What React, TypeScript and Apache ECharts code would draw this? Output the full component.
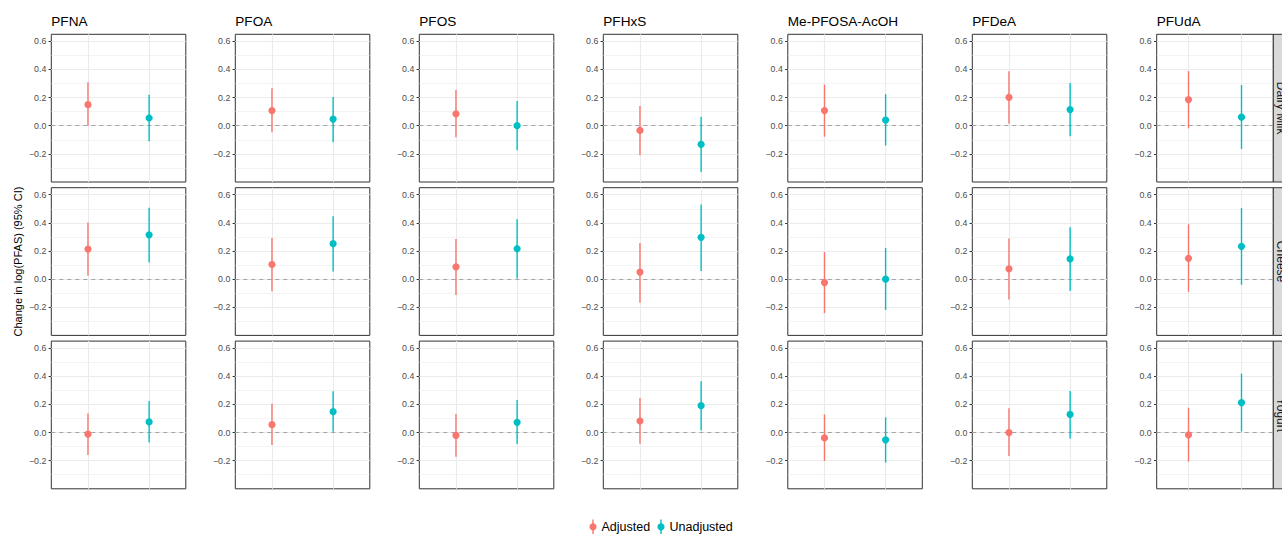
import React, { useEffect, useRef } from "react";
import * as echarts from "echarts";

// ---------- data ----------
const PFAS = ["PFNA", "PFOA", "PFOS", "PFHxS", "Me-PFOSA-AcOH", "PFDeA", "PFUdA"];
const FOODS = ["Dairy Milk", "Cheese", "Yogurt"];
const GROUPS = ["Adjusted", "Unadjusted"];
const GROUP_X = [1, 2];
const Y_TICKS = [-0.2, 0, 0.2, 0.4, 0.6];
const Y_MINOR = [-0.3, -0.1, 0.1, 0.3, 0.5];

// [estimate, lower, upper] per PFAS
const milkAdjusted = [
  [0.15, 0.0, 0.31], [0.108, -0.047, 0.266], [0.085, -0.082, 0.254], [-0.033, -0.209, 0.141],
  [0.108, -0.078, 0.292], [0.202, 0.014, 0.388], [0.186, -0.019, 0.388],
];
const milkUnadjusted = [
  [0.055, -0.11, 0.22], [0.047, -0.118, 0.205], [0.0, -0.174, 0.176], [-0.132, -0.329, 0.064],
  [0.04, -0.141, 0.224], [0.115, -0.075, 0.304], [0.061, -0.165, 0.289],
];
const cheeseAdjusted = [
  [0.214, 0.024, 0.402], [0.104, -0.087, 0.292], [0.087, -0.113, 0.285], [0.05, -0.168, 0.256],
  [-0.024, -0.242, 0.193], [0.073, -0.144, 0.289], [0.148, -0.09, 0.39],
];
const cheeseUnadjusted = [
  [0.315, 0.118, 0.508], [0.252, 0.054, 0.447], [0.216, 0.005, 0.426], [0.297, 0.057, 0.53],
  [0.0, -0.219, 0.221], [0.144, -0.085, 0.369], [0.233, -0.04, 0.505],
];
const yogurtAdjusted = [
  [-0.012, -0.16, 0.136], [0.056, -0.089, 0.205], [-0.021, -0.172, 0.132], [0.082, -0.08, 0.245],
  [-0.038, -0.202, 0.129], [0.0, -0.167, 0.172], [-0.017, -0.207, 0.176],
];
const yogurtUnadjusted = [
  [0.075, -0.071, 0.224], [0.148, 0.005, 0.294], [0.073, -0.082, 0.231], [0.191, 0.014, 0.365],
  [-0.052, -0.214, 0.108], [0.129, -0.042, 0.296], [0.212, 0.007, 0.419],
];
const ROW_DATA = [
  [milkAdjusted, milkUnadjusted],
  [cheeseAdjusted, cheeseUnadjusted],
  [yogurtAdjusted, yogurtUnadjusted],
];

// ---------- style / layout ----------
const COLORS = ["#F8766D", "#00BFC4"];
const FONT = "'Liberation Sans', Arial, Helvetica, sans-serif";
const PANEL_LEFTS = [51.3, 235.3, 419.3, 603.3, 787.8, 972.3, 1156.7];
const PANEL_W = 134.5;
const LAST_PANEL_W = 116.6;
const PANEL_TOPS = [34.3, 187.7, 341.1];
const PANEL_H = 147.7;
const STRIP_W = 17;

const fmt = (v: number) => {
  const s = Math.abs(v) < 1e-9 ? "0.0" : v.toFixed(1);
  return s.replace("-", "\u2212");
};

function buildOption() {
  const grid: any[] = [];
  const xAxis: any[] = [];
  const yAxis: any[] = [];
  const series: any[] = [];
  const graphic: any[] = [];

  FOODS.forEach((food, r) => {
    PFAS.forEach((name, c) => {
      const idx = grid.length;
      const w = c === PFAS.length - 1 ? LAST_PANEL_W : PANEL_W;
      grid.push({
        left: PANEL_LEFTS[c],
        top: PANEL_TOPS[r],
        width: w,
        height: PANEL_H,
        show: true,
        borderColor: "#333333",
        borderWidth: 1,
        backgroundColor: "transparent",
        containLabel: false,
      });
      xAxis.push({
        type: "value",
        gridIndex: idx,
        min: 0.4,
        max: 2.6,
        axisLine: { show: false },
        splitLine: { show: false },
        axisLabel: { show: false, customValues: GROUP_X },
        axisTick: {
          show: r === FOODS.length - 1,
          customValues: GROUP_X,
          length: 2.7,
          lineStyle: { color: "#333333", width: 1 },
        },
      });
      yAxis.push({
        type: "value",
        gridIndex: idx,
        min: -0.4,
        max: 0.65,
        axisLine: { show: false },
        splitLine: { show: false },
        axisTick: {
          show: true,
          customValues: Y_TICKS,
          length: 2.7,
          lineStyle: { color: "#333333", width: 1 },
        },
        axisLabel: {
          show: true,
          customValues: Y_TICKS,
          formatter: (v: number) => fmt(v),
          fontSize: 8.8,
          fontFamily: FONT,
          color: "#4D4D4D",
          margin: 5,
        },
      });

      const gridLines: any[] = [];
      Y_MINOR.forEach((v) =>
        gridLines.push({ yAxis: v, lineStyle: { color: "#EBEBEB", width: 0.6, type: "solid" } })
      );
      Y_TICKS.forEach((v) =>
        gridLines.push({ yAxis: v, lineStyle: { color: "#EBEBEB", width: 1.1, type: "solid" } })
      );
      GROUP_X.forEach((v) =>
        gridLines.push({ xAxis: v, lineStyle: { color: "#EBEBEB", width: 1.1, type: "solid" } })
      );
      gridLines.push({ yAxis: 0, lineStyle: { color: "#A3A3A3", width: 1.2, type: [4, 4] } });

      series.push({
        type: "line",
        xAxisIndex: idx,
        yAxisIndex: idx,
        data: [[1.5, 0.1]],
        symbol: "none",
        lineStyle: { opacity: 0 },
        silent: true,
        z: 1,
        markLine: {
          silent: true,
          symbol: ["none", "none"],
          label: { show: false },
          animation: false,
          data: gridLines,
        },
      });

      const pts = ROW_DATA[r].map((arr, g) => [GROUP_X[g], arr[c][0], arr[c][1], arr[c][2], g]);
      series.push({
        type: "custom",
        name: `${food} ${name}`,
        xAxisIndex: idx,
        yAxisIndex: idx,
        z: 5,
        data: pts,
        encode: { x: 0, y: [1, 2, 3] },
        renderItem: (_params: any, api: any) => {
          const x = api.value(0);
          const est = api.value(1);
          const lo = api.value(2);
          const hi = api.value(3);
          const g = api.value(4);
          const pLo = api.coord([x, lo]);
          const pHi = api.coord([x, hi]);
          const pE = api.coord([x, est]);
          const color = COLORS[g];
          return {
            type: "group",
            children: [
              {
                type: "line",
                shape: { x1: pLo[0], y1: pLo[1], x2: pHi[0], y2: pHi[1] },
                style: { stroke: color, lineWidth: 1.4 },
              },
              {
                type: "circle",
                shape: { cx: pE[0], cy: pE[1], r: 3.6 },
                style: { fill: color },
              },
            ],
          };
        },
      });

      if (r === 0) {
        graphic.push({
          type: "text",
          x: PANEL_LEFTS[c],
          y: 21,
          style: {
            text: name,
            fill: "#000000",
            fontSize: 13.6,
            fontFamily: FONT,
            align: "left",
            verticalAlign: "middle",
            textAlign: "left",
            textVerticalAlign: "middle",
          },
        });
      }
    });

    // strip on the right of the last column
    const sx = PANEL_LEFTS[PANEL_LEFTS.length - 1] + LAST_PANEL_W;
    graphic.push({
      type: "rect",
      shape: { x: sx, y: PANEL_TOPS[r], width: STRIP_W, height: PANEL_H },
      style: { fill: "#D9D9D9", stroke: "#333333", lineWidth: 1 },
      z: 10,
    });
    graphic.push({
      type: "text",
      x: sx + STRIP_W / 2 - 0.5,
      y: PANEL_TOPS[r] + PANEL_H / 2,
      rotation: -Math.PI / 2,
      z: 11,
      style: {
        text: food,
        fill: "#1A1A1A",
        fontSize: 12,
        fontFamily: FONT,
        align: "center",
        verticalAlign: "middle",
        textAlign: "center",
        textVerticalAlign: "middle",
      },
    });
  });

  // y axis title
  graphic.push({
    type: "text",
    x: 17.5,
    y: (PANEL_TOPS[0] + PANEL_TOPS[2] + PANEL_H) / 2,
    rotation: Math.PI / 2,
    style: {
      text: "Change in log(PFAS) (95% CI)",
      fill: "#000000",
      fontSize: 11,
      fontFamily: FONT,
      align: "center",
      verticalAlign: "middle",
      textAlign: "center",
      textVerticalAlign: "middle",
    },
  });

  // legend
  const legendX = [593, 661];
  GROUPS.forEach((g, i) => {
    graphic.push({
      type: "line",
      shape: { x1: legendX[i], y1: 519.5, x2: legendX[i], y2: 534 },
      style: { stroke: COLORS[i], lineWidth: 1.4 },
    });
    graphic.push({
      type: "circle",
      shape: { cx: legendX[i], cy: 526.8, r: 3.6 },
      style: { fill: COLORS[i] },
    });
    graphic.push({
      type: "text",
      x: legendX[i] + 8.5,
      y: 527,
      style: {
        text: g,
        fill: "#000000",
        fontSize: 12.5,
        fontFamily: FONT,
        align: "left",
        verticalAlign: "middle",
        textAlign: "left",
        textVerticalAlign: "middle",
      },
    });
  });

  return {
    animation: false,
    backgroundColor: "#FFFFFF",
    grid,
    xAxis,
    yAxis,
    series,
    graphic,
  };
}

export default function App() {
  const ref = useRef<HTMLDivElement | null>(null);
  useEffect(() => {
    if (!ref.current) return;
    const chart = echarts.init(ref.current, undefined, { renderer: "svg" });
    chart.setOption(buildOption() as any);
    return () => chart.dispose();
  }, []);
  return (
    <div
      ref={ref}
      style={{ position: "fixed", left: 0, top: 0, width: 1282, height: 534, background: "#fff" }}
    />
  );
}
